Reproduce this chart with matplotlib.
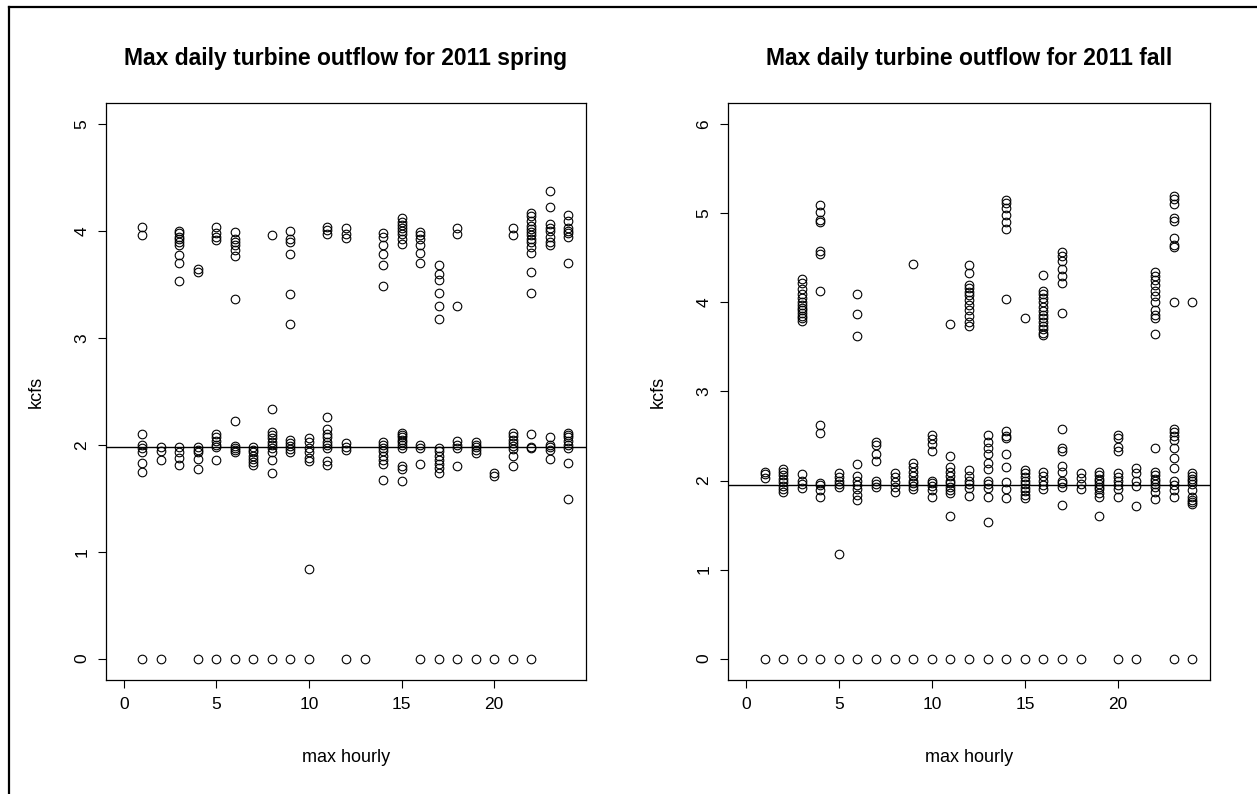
import matplotlib
matplotlib.use('Agg')
import matplotlib.pyplot as plt
from matplotlib.lines import Line2D

plt.rcParams['font.family'] = ['Liberation Sans', 'DejaVu Sans']

hours = list(range(1, 25))

# kcfs readings per max hour (index 0 -> hour 1)
spring_kcfs = [
    [4.04, 3.96, 2.1, 2.0, 1.97, 1.93, 1.83, 1.75, 0],
    [1.98, 1.94, 1.86, 0],
    [4.0, 3.98, 3.95, 3.93, 3.9, 3.87, 3.78, 3.7, 3.53, 1.98, 1.93, 1.88, 1.81],
    [3.65, 3.62, 1.98, 1.95, 1.93, 1.87, 1.77, 0],
    [4.04, 3.98, 3.95, 3.92, 2.1, 2.07, 2.04, 2.0, 1.98, 1.86, 0],
    [3.99, 3.93, 3.9, 3.87, 3.82, 3.77, 3.37, 2.22, 1.99, 1.97, 1.95, 1.93, 0],
    [1.98, 1.95, 1.93, 1.9, 1.87, 1.84, 1.81, 0],
    [3.96, 2.34, 2.12, 2.09, 2.06, 2.03, 2.0, 1.97, 1.93, 1.86, 1.74, 0],
    [4.0, 3.93, 3.9, 3.79, 3.41, 3.13, 2.05, 2.02, 1.99, 1.96, 1.93, 0],
    [2.06, 2.03, 1.97, 1.93, 1.88, 1.85, 0.84, 0],
    [4.04, 4.01, 3.97, 2.26, 2.15, 2.1, 2.07, 2.03, 2.0, 1.97, 1.85, 1.81],
    [4.03, 3.97, 3.94, 2.02, 1.98, 1.95, 0],
    [0],
    [3.98, 3.95, 3.87, 3.79, 3.68, 3.49, 2.03, 2.0, 1.97, 1.94, 1.9, 1.86, 1.82, 1.67],
    [4.12, 4.09, 4.06, 4.03, 4.0, 3.97, 3.93, 3.88, 2.11, 2.09, 2.07, 2.05, 2.03,
     2.0, 1.97, 1.8, 1.77, 1.66],
    [3.99, 3.96, 3.93, 3.87, 3.8, 3.7, 2.0, 1.97, 1.82, 0],
    [3.68, 3.6, 3.54, 3.42, 3.3, 3.18, 1.97, 1.94, 1.9, 1.86, 1.82, 1.78, 1.74, 0],
    [4.03, 3.97, 3.3, 2.04, 2.0, 1.97, 1.8, 0],
    [2.03, 2.0, 1.98, 1.95, 1.92, 0],
    [1.74, 1.71, 0],
    [4.03, 3.96, 2.11, 2.08, 2.05, 2.02, 1.99, 1.96, 1.9, 1.8, 0],
    [4.17, 4.14, 4.1, 4.05, 4.02, 3.99, 3.96, 3.93, 3.9, 3.85, 3.8, 3.62, 3.42,
     2.1, 1.98, 1.97, 0],
    [4.38, 4.23, 4.07, 4.03, 4.0, 3.95, 3.9, 3.87, 2.07, 2.0, 1.98, 1.95, 1.87],
    [4.15, 4.1, 4.03, 4.0, 3.98, 3.95, 3.7, 2.11, 2.09, 2.07, 2.04, 2.0, 1.97,
     1.83, 1.49],
]

fall_kcfs = [
    [2.1, 2.07, 2.03, 0],
    [2.13, 2.1, 2.06, 2.02, 1.98, 1.94, 1.9, 1.87, 0],
    [4.26, 4.22, 4.15, 4.1, 4.05, 4.0, 3.97, 3.94, 3.91, 3.88, 3.85, 3.82, 3.79,
     2.07, 2.0, 1.96, 1.92, 0],
    [5.09, 5.02, 4.93, 4.9, 4.58, 4.54, 4.13, 2.62, 2.53, 1.97, 1.95, 1.89, 1.82, 0],
    [2.08, 2.04, 2.0, 1.96, 1.93, 1.17, 0],
    [4.1, 3.87, 3.62, 2.18, 2.05, 2.0, 1.95, 1.9, 1.84, 1.78, 0],
    [2.43, 2.4, 2.3, 2.22, 2.0, 1.96, 1.93, 0],
    [2.08, 2.04, 1.98, 1.93, 1.87, 0],
    [4.43, 2.2, 2.15, 2.1, 2.05, 2.0, 1.97, 1.94, 1.9, 0],
    [2.51, 2.47, 2.41, 2.33, 2.0, 1.97, 1.94, 1.89, 1.81, 0],
    [3.76, 2.28, 2.15, 2.1, 2.05, 2.0, 1.97, 1.93, 1.89, 1.86, 1.6, 0],
    [4.42, 4.33, 4.2, 4.16, 4.12, 4.08, 4.03, 3.97, 3.92, 3.85, 3.78, 3.73,
     2.12, 2.05, 2.0, 1.96, 1.92, 1.83, 0],
    [2.51, 2.43, 2.36, 2.3, 2.2, 2.13, 2.0, 1.96, 1.92, 1.82, 1.53, 0],
    [5.15, 5.12, 5.06, 4.98, 4.9, 4.82, 4.04, 2.56, 2.5, 2.48, 2.3, 2.15, 1.98,
     1.9, 1.8, 0],
    [3.82, 2.12, 2.08, 2.04, 2.0, 1.96, 1.92, 1.88, 1.84, 1.8, 0],
    [4.31, 4.13, 4.1, 4.05, 4.0, 3.95, 3.9, 3.86, 3.82, 3.78, 3.74, 3.7, 3.66,
     3.63, 2.1, 2.05, 2.0, 1.95, 1.9, 0],
    [4.57, 4.52, 4.47, 4.38, 4.3, 4.22, 3.88, 2.58, 2.36, 2.33, 2.16, 2.1, 2.0,
     1.97, 1.93, 1.73, 0],
    [2.08, 2.03, 1.96, 1.9, 0],
    [2.1, 2.06, 2.02, 1.99, 1.96, 1.93, 1.9, 1.86, 1.82, 1.6],
    [2.51, 2.48, 2.38, 2.33, 2.08, 2.04, 2.0, 1.95, 1.9, 1.82, 0],
    [2.14, 2.08, 2.0, 1.94, 1.71, 0],
    [4.34, 4.3, 4.25, 4.2, 4.13, 4.07, 4.0, 3.92, 3.86, 3.82, 3.65, 2.36, 2.1,
     2.06, 2.02, 1.99, 1.96, 1.93, 1.87, 1.79],
    [5.2, 5.16, 5.1, 4.95, 4.92, 4.72, 4.64, 4.62, 4.0, 2.58, 2.55, 2.5, 2.45,
     2.36, 2.25, 2.14, 2.0, 1.95, 1.89, 1.81, 0],
    [4.0, 2.08, 2.05, 2.02, 1.99, 1.96, 1.89, 1.82, 1.78, 1.76, 1.74, 0],
]

spring_line = 1.98
fall_line = 1.95

fig = plt.figure(figsize=(12.57, 7.94), dpi=100)

# window frame (top and left edge of the screenshot)
fig.add_artist(Line2D([0.007, 1.0], [0.991, 0.991], color='black', lw=1.6))
fig.add_artist(Line2D([0.007, 0.007], [0.0, 0.991], color='black', lw=1.6))


def panel(rect, values, line_y, ymax, yticks, title):
    ax = fig.add_axes(rect)
    xs, ys = [], []
    for h, vals in zip(hours, values):
        for v in vals:
            xs.append(h)
            ys.append(v)
    ax.plot(xs, ys, 'o', mfc='none', mec='black', ms=6.2, mew=0.8)
    ax.axhline(line_y, color='black', lw=1.0)
    ax.set_xlim(-0.96, 24.96)
    pad = ymax * 0.04
    ax.set_ylim(-pad, ymax + pad)
    ax.set_xticks([0, 5, 10, 15, 20])
    ax.set_yticks(yticks)
    ax.tick_params(direction='out', length=6, width=0.8, labelsize=12.5, pad=6)
    for lab in ax.get_yticklabels():
        lab.set_rotation(90)
        lab.set_va('center')
    for s in ax.spines.values():
        s.set_linewidth(0.9)
    ax.set_title(title, fontsize=16.5, fontweight='bold', pad=27)
    ax.set_xlabel('max hourly', fontsize=13, labelpad=27)
    ax.set_ylabel('kcfs', fontsize=13, labelpad=21)
    return ax


panel([0.0843, 0.1436, 0.3819, 0.7267], spring_kcfs, spring_line, 5,
      [0, 1, 2, 3, 4, 5], 'Max daily turbine outflow for 2011 spring')
panel([0.5792, 0.1436, 0.3835, 0.7267], fall_kcfs, fall_line, 6,
      [0, 1, 2, 3, 4, 5, 6], 'Max daily turbine outflow for 2011 fall')

fig.savefig('out.png', dpi=100, facecolor='white')
